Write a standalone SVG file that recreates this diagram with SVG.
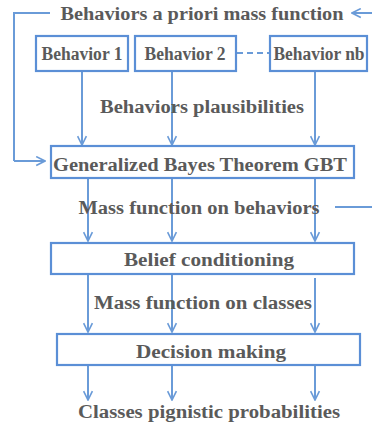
<svg xmlns="http://www.w3.org/2000/svg" width="372" height="430" viewBox="0 0 372 430">
  <defs>
    <marker id="arr" viewBox="0 0 10 10" refX="9" refY="5" markerWidth="5.5" markerHeight="5.5" orient="auto" markerUnits="strokeWidth">
      <path d="M1,1 L9,5 L1,9" fill="none" stroke="#6a9bd8" stroke-width="1.5"/>
    </marker>
  </defs>
  <style>
    .box { fill: #ffffff; stroke: #5b8fd6; stroke-width: 2.2; }
    .lbl { font-family: "Liberation Serif", "DejaVu Serif", serif; font-weight: bold; fill: #5a5a5a; font-size: 18.5px; }
    .ln { fill: none; stroke: #6a9bd8; stroke-width: 2; }
    .arr { marker-end: url(#arr); }
  </style>
  <rect width="372" height="430" fill="#ffffff"/>

  <g id="connectors">
    <!-- prior mass feedback loop -->
    <polyline class="ln" points="50,13 14,13 14,161"/>
    <line class="ln arr" x1="14" y1="161" x2="45" y2="161"/>
    <line class="ln arr" x1="372" y1="13" x2="352" y2="13"/>
    <line class="ln" x1="335" y1="207" x2="372" y2="207"/>
    <!-- behavior boxes link -->
    <line class="ln" x1="237" y1="53" x2="269" y2="53" stroke-dasharray="6,4"/>
    <!-- behaviors to GBT -->
    <line class="ln arr" x1="82" y1="72" x2="82" y2="145"/>
    <line class="ln arr" x1="172" y1="72" x2="172" y2="145"/>
    <line class="ln arr" x1="315" y1="72" x2="315" y2="145"/>
    <!-- GBT to belief conditioning -->
    <line class="ln arr" x1="88" y1="179" x2="88" y2="241"/>
    <line class="ln arr" x1="172" y1="179" x2="172" y2="241"/>
    <line class="ln arr" x1="315" y1="179" x2="315" y2="241"/>
    <!-- belief conditioning to decision -->
    <line class="ln arr" x1="88" y1="275" x2="88" y2="332"/>
    <line class="ln arr" x1="172" y1="275" x2="172" y2="332"/>
    <line class="ln arr" x1="315" y1="278" x2="315" y2="332"/>
    <!-- decision outputs -->
    <line class="ln arr" x1="88" y1="366" x2="88" y2="400"/>
    <line class="ln arr" x1="172" y1="366" x2="172" y2="400"/>
    <line class="ln arr" x1="315" y1="366" x2="315" y2="400"/>
  </g>

  <g id="prior">
    <text class="lbl" x="202" y="20" text-anchor="middle" textLength="283" lengthAdjust="spacingAndGlyphs">Behaviors a priori mass function</text>
  </g>
  <g id="behavior1">
    <rect class="box" x="36" y="36" width="92" height="35"/>
    <text class="lbl" x="82" y="60" text-anchor="middle" font-size="16" textLength="81" lengthAdjust="spacingAndGlyphs">Behavior 1</text>
  </g>
  <g id="behavior2">
    <rect class="box" x="135" y="36" width="101" height="35"/>
    <text class="lbl" x="185" y="60" text-anchor="middle" font-size="16" textLength="81" lengthAdjust="spacingAndGlyphs">Behavior 2</text>
  </g>
  <g id="behaviornb">
    <rect class="box" x="270" y="36" width="97" height="35"/>
    <text class="lbl" x="319" y="60" text-anchor="middle" font-size="16" textLength="91" lengthAdjust="spacingAndGlyphs">Behavior nb</text>
  </g>
  <g id="plausibilities">
    <text class="lbl" x="202" y="113" text-anchor="middle" textLength="204" lengthAdjust="spacingAndGlyphs">Behaviors plausibilities</text>
  </g>
  <g id="gbt">
    <rect class="box" x="51" y="146" width="303" height="32"/>
    <text class="lbl" x="200" y="171" text-anchor="middle" textLength="294" lengthAdjust="spacingAndGlyphs">Generalized Bayes Theorem GBT</text>
  </g>
  <g id="massbehaviors">
    <text class="lbl" x="199" y="214" text-anchor="middle" textLength="241" lengthAdjust="spacingAndGlyphs">Mass function on behaviors</text>
  </g>
  <g id="belief">
    <rect class="box" x="51" y="243" width="303" height="31"/>
    <text class="lbl" x="209" y="266" text-anchor="middle" textLength="170" lengthAdjust="spacingAndGlyphs">Belief conditioning</text>
  </g>
  <g id="massclasses">
    <text class="lbl" x="203" y="309" text-anchor="middle" textLength="218" lengthAdjust="spacingAndGlyphs">Mass function on classes</text>
  </g>
  <g id="decision">
    <rect class="box" x="57" y="334" width="303" height="31"/>
    <text class="lbl" x="211" y="358" text-anchor="middle" textLength="150" lengthAdjust="spacingAndGlyphs">Decision making</text>
  </g>
  <g id="pignistic">
    <text class="lbl" x="209" y="418" text-anchor="middle" textLength="262" lengthAdjust="spacingAndGlyphs">Classes pignistic probabilities</text>
  </g>
</svg>
